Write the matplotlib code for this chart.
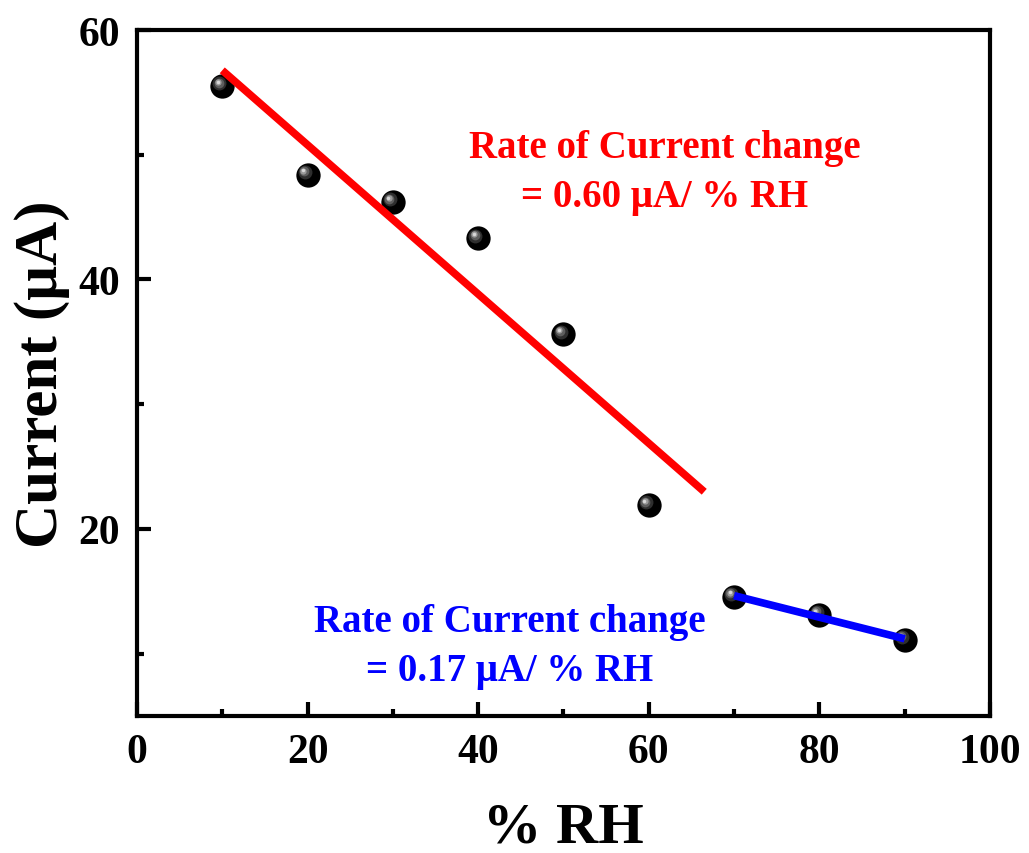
import numpy as np
import matplotlib
matplotlib.use("Agg")
import matplotlib.pyplot as plt
import matplotlib.transforms as mtransforms

rh = [10, 20, 30, 40, 50, 60, 70, 80, 90]
current = [55.5, 48.4, 46.2, 43.3, 35.6, 21.9, 14.56, 13.1, 11.1]

# linear fits: low RH (10-60) and high RH (70-90)
low_x = rh[:6]
low_y = current[:6]
high_x = rh[6:]
high_y = current[6:]
low_fit_range = [10, 66.5]
high_fit_range = [70, 90]

low_label = "Rate of Current change\n= 0.60 \u03bcA/ % RH"
high_label = "Rate of Current change\n= 0.17 \u03bcA/ % RH"

plt.rcParams['font.family'] = ['Liberation Serif', 'DejaVu Serif']
plt.rcParams['font.weight'] = 'bold'


def main():
    fig = plt.figure(figsize=(10.29, 8.54), dpi=100)
    ax = fig.add_axes([0.1331, 0.1604, 0.829, 0.8033])

    # sphere-like markers: black ball with grey highlight
    ax.scatter(rh, current, s=17.5**2, color='black', zorder=2, linewidths=0)
    layers = [(10, '#2e2e2e', 2.0), (7, '#5e5e5e', 2.6), (4.5, '#9a9a9a', 3.0), (2.5, '#d8d8d8', 3.2)]
    for size, col, off in layers:
        tr = ax.transData + mtransforms.ScaledTranslation(-off / 72, off / 72, fig.dpi_scale_trans)
        ax.scatter(rh, current, s=size**2, color=col, zorder=2.1, linewidths=0, transform=tr)

    p1 = np.polyfit(low_x, low_y, 1)
    p2 = np.polyfit(high_x, high_y, 1)
    xs1 = np.array(low_fit_range)
    xs2 = np.array(high_fit_range)
    ax.plot(xs1, np.polyval(p1, xs1), color='#ff0000', lw=5.5, zorder=3, solid_capstyle='butt')
    ax.plot(xs2, np.polyval(p2, xs2), color='#0000ff', lw=5.5, zorder=3, solid_capstyle='butt')

    ax.text(61.9, 48.6, low_label, color='#ff0000', fontsize=28, fontweight='bold',
            ha='center', va='center', multialignment='center', linespacing=1.45)
    ax.text(43.7, 10.6, high_label, color='#0000ff', fontsize=28, fontweight='bold',
            ha='center', va='center', multialignment='center', linespacing=1.45)

    ax.set_xlim(0, 100)
    ax.set_ylim(5, 60)
    ax.set_xticks([0, 20, 40, 60, 80, 100])
    ax.set_yticks([20, 40, 60])
    ax.set_xticks([10, 30, 50, 70, 90], minor=True)
    ax.set_yticks([10, 30, 50], minor=True)
    ax.tick_params(which='major', direction='in', length=10, width=3, labelsize=30, pad=12)
    ax.tick_params(which='minor', direction='in', length=5, width=3)
    for lab in ax.get_xticklabels() + ax.get_yticklabels():
        lab.set_fontweight('bold')
    for sp in ax.spines.values():
        sp.set_linewidth(3)

    ax.set_xlabel('% RH', fontsize=42, fontweight='bold', labelpad=22)
    ax.set_ylabel('Current (\u03bcA)', fontsize=44, fontweight='bold', labelpad=6)

    fig.savefig('out.png', dpi=100)


if __name__ == '__main__':
    main()
